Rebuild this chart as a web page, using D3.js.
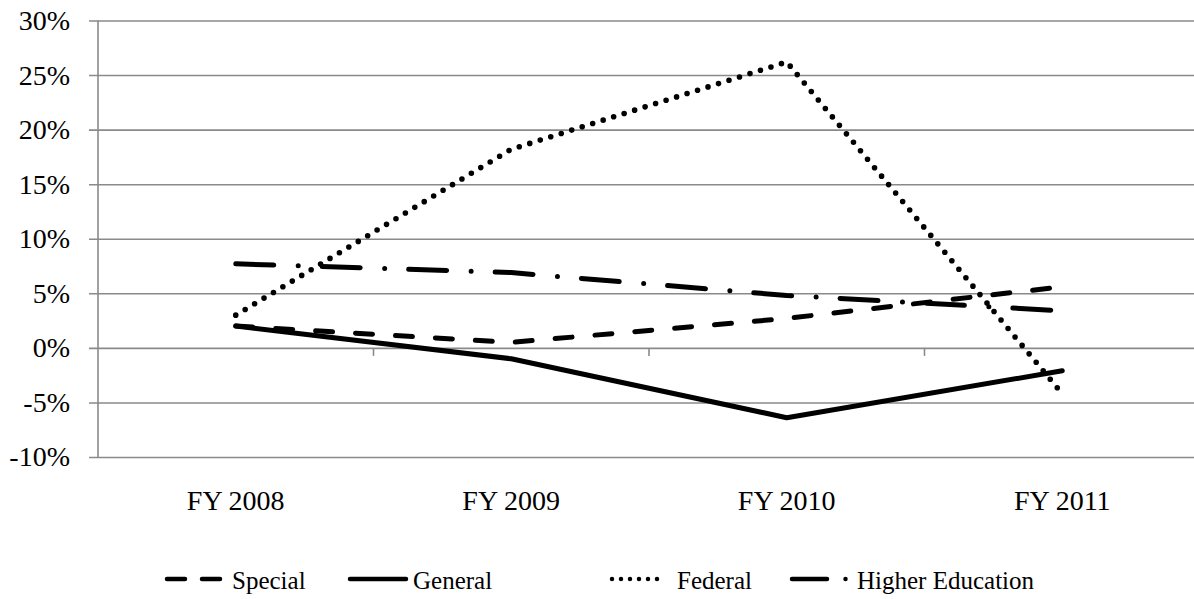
<!DOCTYPE html>
<html>
<head>
<meta charset="utf-8">
<script src="https://cdn.jsdelivr.net/npm/d3@7"></script>
<style>
  body { margin: 0; background: #fff; }
</style>
</head>
<body>
<svg id="chart"></svg>
<script>
var years = ["FY 2008", "FY 2009", "FY 2010", "FY 2011"]
var special = [2.0, 0.5, 2.7, 5.6]
var general = [2.0, -1.0, -6.4, -2.1]
var federal = [3.0, 18.2, 26.2, -4.2]
var higherEd = [7.7, 6.9, 4.8, 3.4]
var yTicks = [-10, -5, 0, 5, 10, 15, 20, 25, 30]

var serif = "'Liberation Serif', 'Times New Roman', 'DejaVu Serif', serif"

var series = [
    {name: "Special", values: special, dash: "17,23", width: 5},
    {name: "General", values: general, dash: null, width: 5},
    {name: "Federal", values: federal, dash: "0,11", width: 5.6},
    {name: "Higher Education", values: higherEd, dash: "38,24.5,0,24", width: 5}
]

var dimensions = {
    width: 1194,
    height: 599,
    margin: {
        top: 20.5,
        bottom: 142,
        right: -6,
        left: 98
    }
}

var svg = d3.select("#chart")
            .attr("width", dimensions.width)
            .attr("height", dimensions.height)

var xScale = d3.scaleBand()
               .domain(years)
               .range([dimensions.margin.left, dimensions.width - dimensions.margin.right])

var yScale = d3.scaleLinear()
               .domain([-10, 30])
               .range([dimensions.height - dimensions.margin.bottom, dimensions.margin.top])

// gridlines + y labels
var yAxisgen = d3.axisLeft(yScale)
                 .tickValues(yTicks)
                 .tickFormat(d => d + "%")
                 .tickSize(-(dimensions.width - dimensions.margin.left + 20))

var yAxis = svg.append("g")
               .attr("transform", `translate(${dimensions.margin.left - 9},0)`)
               .call(yAxisgen)
               .attr("font-family", serif)
               .attr("font-size", 28)
yAxis.select(".domain").remove()
yAxis.selectAll(".tick line")
     .attr("stroke", "#8a8a8a")
     .attr("stroke-width", 1.6)
yAxis.selectAll(".tick text")
     .attr("x", -19)
     .attr("fill", "#000")
     .style("font-family", serif)
     .style("font-size", "28px")

svg.append("line")
   .attr("x1", dimensions.margin.left).attr("x2", dimensions.margin.left)
   .attr("y1", yScale(30)).attr("y2", yScale(-10))
   .attr("stroke", "#8a8a8a")
   .attr("stroke-width", 1.6)

// category axis at 0%
var bounds = years.map(d => xScale(d)).concat([xScale.range()[1]])
svg.append("g")
   .selectAll("line")
   .data(bounds.slice(1, 4))
   .join("line")
   .attr("x1", d => d).attr("x2", d => d)
   .attr("y1", yScale(0)).attr("y2", yScale(0) + 8)
   .attr("stroke", "#8a8a8a")
   .attr("stroke-width", 1.6)

svg.append("g")
   .selectAll("text")
   .data(years)
   .join("text")
   .attr("x", d => xScale(d) + xScale.bandwidth() / 2)
   .attr("y", 510)
   .attr("text-anchor", "middle")
   .style("font-family", serif)
   .style("font-size", "28px")
   .text(d => d)

var line = d3.line()
             .x((d, i) => xScale(years[i]) + xScale.bandwidth() / 2)
             .y(d => yScale(d))

series.forEach(s => {
    svg.append("path")
       .datum(s.values)
       .attr("d", line)
       .style("fill", "none")
       .style("stroke", "#000")
       .style("stroke-width", s.width)
       .style("stroke-linecap", "round")
       .style("stroke-linejoin", "round")
       .style("stroke-dasharray", s.dash)
})

// legend
var legendX = [165, 348, 610, 790]
var legendDash = ["18,17", null, "0,9", "35,18.5,0,10"]
var legend = svg.append("g")
series.forEach((s, i) => {
    legend.append("line")
          .attr("x1", legendX[i] + 2).attr("x2", legendX[i] + (i == 2 ? 53 : 58))
          .attr("y1", 579).attr("y2", 579)
          .style("stroke", "#000")
          .style("stroke-width", 4.5)
          .style("stroke-linecap", "round")
          .style("stroke-dasharray", legendDash[i])
    legend.append("text")
          .attr("x", legendX[i] + (i == 1 ? 65 : 67))
          .attr("y", 589)
          .style("font-family", serif)
          .style("font-size", "25px")
          .text(s.name)
})
</script>
</body>
</html>
